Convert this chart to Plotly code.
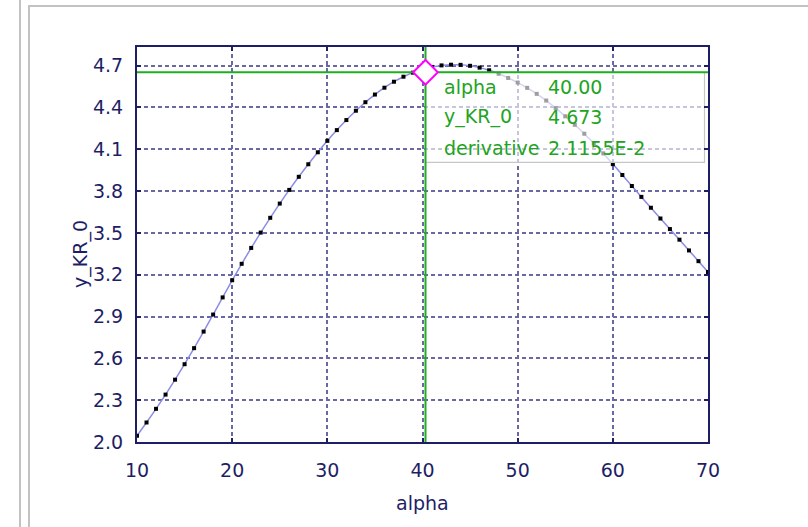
import plotly.graph_objects as go

# ---- data ----
alpha = list(range(10, 71))
y_kr_0 = [
    2.045, 2.140, 2.238, 2.340, 2.447, 2.558, 2.673, 2.792, 2.914, 3.037,
    3.160, 3.278, 3.392, 3.502, 3.608, 3.710, 3.808, 3.902, 3.992, 4.078,
    4.160, 4.237, 4.309, 4.376, 4.437, 4.492, 4.541, 4.584, 4.620, 4.649,
    4.673, 4.690, 4.701, 4.706, 4.705, 4.698, 4.685, 4.666, 4.641, 4.611,
    4.578, 4.540, 4.497, 4.449, 4.395, 4.336, 4.275, 4.211, 4.143, 4.070,
    3.993, 3.915, 3.836, 3.758, 3.680, 3.603, 3.527, 3.451, 3.374, 3.297,
    3.220,
]
x_ticks = [10, 20, 30, 40, 50, 60, 70]
y_ticks = [2.0, 2.3, 2.6, 2.9, 3.2, 3.5, 3.8, 4.1, 4.4, 4.7]
cursor_alpha = 40.00
cursor_y = 4.673
cursor_deriv = 2.1155e-2
x_title = "alpha"
y_title = "y_KR_0"

# ---- layout geometry (pixels) ----
W, H = 808, 527
L, R, T, B = 137, 100, 47, 85
PW, PH = W - L - R, H - T - B
X_RANGE = [10, 70]
Y_RANGE = [2.0, 4.833]
CURSOR_SHIFT_PX = (3, 3)   # the source draws its cursor a few pixels right/down

def px_x(X):
    return (X - L) / PW

def px_y(Y):
    return (H - B - Y) / PH

DXP = (X_RANGE[1] - X_RANGE[0]) / PW
DYP = (Y_RANGE[1] - Y_RANGE[0]) / PH

NAVY = "#1e1e66"
GREEN_LINE = "#1fae1f"
GREEN_TXT = "#22a322"
FONT = "DejaVu Sans"

cx = cursor_alpha + CURSOR_SHIFT_PX[0] * DXP
cy = cursor_y - CURSOR_SHIFT_PX[1] * DYP

fig = go.Figure()

# curve
fig.add_trace(go.Scatter(
    x=alpha, y=y_kr_0, mode="lines+markers",
    line=dict(color="#8c8ce8", width=1.5, shape="spline"),
    marker=dict(color="black", size=4, symbol="square"),
    hoverinfo="skip", showlegend=False,
))

# info box (semi-transparent) anchored at the cursor
box_w = 279 * DXP
box_h = 90 * DYP
bx0, bx1 = cx, cx + box_w
by0, by1 = cy - box_h, cy
fig.add_trace(go.Scatter(
    x=[bx0, bx1, bx1, bx0, bx0], y=[by1, by1, by0, by0, by1],
    mode="lines", fill="toself", fillcolor="rgba(255,255,255,0.62)",
    line=dict(color="#c6c6c6", width=1.2),
    hoverinfo="skip", showlegend=False,
))

# cursor lines
fig.add_trace(go.Scatter(
    x=[cx, cx], y=[Y_RANGE[0] - 0.03, Y_RANGE[1]],
    mode="lines", line=dict(color=GREEN_LINE, width=2),
    hoverinfo="skip", showlegend=False, cliponaxis=False,
))
fig.add_trace(go.Scatter(
    x=[X_RANGE[0], X_RANGE[1] + 0.3], y=[cy, cy],
    mode="lines", line=dict(color=GREEN_LINE, width=2),
    hoverinfo="skip", showlegend=False, cliponaxis=False,
))
# cursor marker
fig.add_trace(go.Scatter(
    x=[cx], y=[cy], mode="markers",
    marker=dict(symbol="diamond", size=19, color="white",
                line=dict(color="#ff00ff", width=2)),
    hoverinfo="skip", showlegend=False, cliponaxis=False,
))

# info text
rows = [
    ("alpha", f"{cursor_alpha:.2f}"),
    ("y_KR_0", f"{cursor_y:.3f}"),
    ("derivative", f"{cursor_deriv:.4E}".replace("E-0", "E-").replace("E+0", "E")),
]
row_centers = [87, 117, 148]
for (lab, val), yc in zip(rows, row_centers):
    fig.add_annotation(x=px_x(442), y=px_y(yc), xref="paper", yref="paper",
                       text=lab, showarrow=False, xanchor="left", yanchor="middle",
                       font=dict(family=FONT, size=19, color=GREEN_TXT))
    fig.add_annotation(x=px_x(546), y=px_y(yc), xref="paper", yref="paper",
                       text=val, showarrow=False, xanchor="left", yanchor="middle",
                       font=dict(family=FONT, size=19, color=GREEN_TXT))

# axis titles
fig.add_annotation(x=0.5, y=px_y(503), xref="paper", yref="paper", text=x_title,
                   showarrow=False, xanchor="center", yanchor="middle",
                   font=dict(family=FONT, size=19, color=NAVY))
fig.add_annotation(x=px_x(80), y=px_y(254), xref="paper", yref="paper", text=y_title,
                   showarrow=False, xanchor="center", yanchor="middle", textangle=-90,
                   font=dict(family=FONT, size=19, color=NAVY))

# panel border lines
panel = "#c2c2c2"
shapes = [
    dict(type="line", xref="paper", yref="paper", x0=px_x(20), x1=px_x(20),
         y0=px_y(0), y1=px_y(H), line=dict(color=panel, width=2)),
    dict(type="line", xref="paper", yref="paper", x0=px_x(29), x1=px_x(29),
         y0=px_y(6), y1=px_y(H), line=dict(color=panel, width=2)),
    dict(type="line", xref="paper", yref="paper", x0=px_x(28), x1=px_x(W),
         y0=px_y(6), y1=px_y(6), line=dict(color=panel, width=2)),
]

axis_common = dict(
    showline=True, linecolor=NAVY, linewidth=2, mirror="ticks",
    ticks="inside", ticklen=4, tickwidth=1.5, tickcolor=NAVY,
    showgrid=True, gridcolor="#6868a4", gridwidth=1.5, griddash="4px,3px",
    zeroline=False,
    tickfont=dict(family=FONT, size=19, color=NAVY),
)

fig.update_layout(
    width=W, height=H,
    margin=dict(l=L, r=R, t=T, b=B, pad=0),
    paper_bgcolor="white", plot_bgcolor="white",
    showlegend=False,
    shapes=shapes,
    xaxis=dict(range=X_RANGE, tickmode="array", tickvals=x_ticks,
               ticktext=[str(v) for v in x_ticks], ticklabelstandoff=10, **axis_common),
    yaxis=dict(range=Y_RANGE, tickmode="array", tickvals=y_ticks,
               ticktext=[f"{v:.1f}" for v in y_ticks], ticklabelstandoff=8, **axis_common),
)

fig.write_html("out.html")
